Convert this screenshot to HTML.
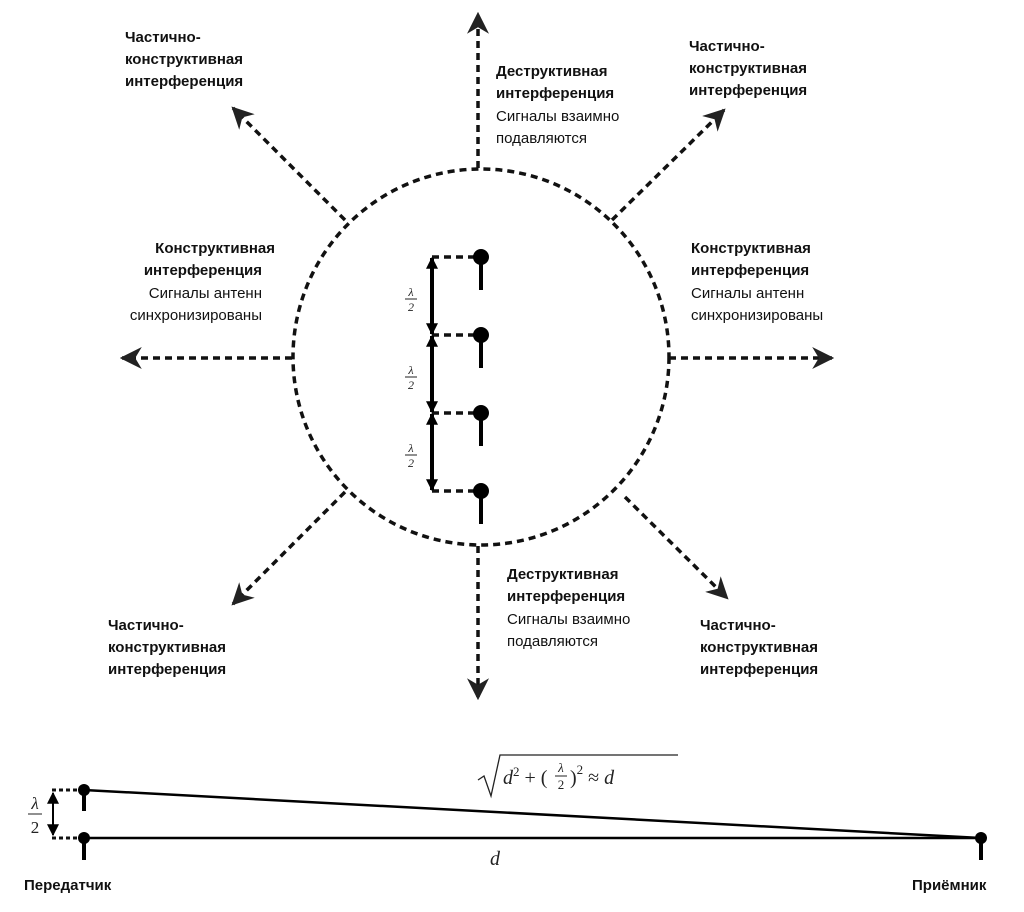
<!DOCTYPE html>
<html><head><meta charset="utf-8"><style>
body{margin:0;background:#fff;width:1024px;height:912px;overflow:hidden}
svg{display:block}
.b{font-family:"Liberation Sans","DejaVu Sans",sans-serif;font-weight:bold;font-size:15px;fill:#111}
.n{font-family:"Liberation Sans","DejaVu Sans",sans-serif;font-size:15px;fill:#111}
.m{font-family:"Liberation Serif",serif;font-style:italic;fill:#222}
</style></head><body>
<svg width="1024" height="912" viewBox="0 0 1024 912">
<defs>
<marker id="ah" viewBox="0 0 20 20" refX="18" refY="10" markerWidth="22" markerHeight="22" markerUnits="userSpaceOnUse" orient="auto">
<path d="M0,0 L20,10 L0,20 L6,10 Z" fill="#222"/></marker>
<marker id="sa" viewBox="0 0 10 10" refX="9" refY="5" markerWidth="12" markerHeight="12" markerUnits="userSpaceOnUse" orient="auto-start-reverse">
<path d="M0,0 L10,5 L0,10 Z" fill="#000"/></marker>
</defs>
<g stroke="#111" stroke-width="3.5" fill="none" stroke-dasharray="7,5">
<circle cx="481" cy="357" r="188"/>
<line x1="478" y1="168" x2="478" y2="14" marker-end="url(#ah)"/>
<line x1="478" y1="546" x2="478" y2="698" marker-end="url(#ah)"/>
<line x1="292" y1="358" x2="122" y2="358" marker-end="url(#ah)"/>
<line x1="669" y1="358" x2="832" y2="358" marker-end="url(#ah)"/>
<line x1="345" y1="220" x2="233" y2="108" marker-end="url(#ah)"/>
<line x1="612" y1="220" x2="724" y2="110" marker-end="url(#ah)"/>
<line x1="345" y1="492" x2="233" y2="604" marker-end="url(#ah)"/>
<line x1="625" y1="497" x2="727" y2="598" marker-end="url(#ah)"/>
<line x1="432" y1="257" x2="481" y2="257"/>
<line x1="432" y1="335" x2="481" y2="335"/>
<line x1="432" y1="413" x2="481" y2="413"/>
<line x1="432" y1="491" x2="481" y2="491"/>
<line x1="52" y1="790" x2="84" y2="790" stroke-width="3" stroke-dasharray="4,3"/>
<line x1="52" y1="838" x2="84" y2="838" stroke-width="3" stroke-dasharray="4,3"/>
</g>
<g stroke="#000" stroke-width="4">
<line x1="432" y1="258" x2="432" y2="334" marker-start="url(#sa)" marker-end="url(#sa)"/>
<line x1="432" y1="336" x2="432" y2="412" marker-start="url(#sa)" marker-end="url(#sa)"/>
<line x1="432" y1="414" x2="432" y2="490" marker-start="url(#sa)" marker-end="url(#sa)"/>
<line x1="481" y1="257" x2="481" y2="290"/>
<line x1="481" y1="335" x2="481" y2="368"/>
<line x1="481" y1="413" x2="481" y2="446"/>
<line x1="481" y1="491" x2="481" y2="524"/>
<line x1="84" y1="790" x2="84" y2="811"/>
<line x1="84" y1="838" x2="84" y2="860"/>
<line x1="981" y1="838" x2="981" y2="860"/>
</g>
<g fill="#000">
<circle cx="481" cy="257" r="8"/><circle cx="481" cy="335" r="8"/>
<circle cx="481" cy="413" r="8"/><circle cx="481" cy="491" r="8"/>
<circle cx="84" cy="790" r="6"/><circle cx="84" cy="838" r="6"/><circle cx="981" cy="838" r="6"/>
</g>
<g stroke="#000" stroke-width="2.5">
<line x1="84" y1="790" x2="981" y2="838"/>
<line x1="84" y1="838" x2="981" y2="838"/>
<line x1="53" y1="793" x2="53" y2="835" marker-start="url(#sa)" marker-end="url(#sa)" stroke-width="2"/>
</g>
<g class="m" font-size="12" text-anchor="middle">
<text x="411" y="296">λ</text><line x1="405" y1="299" x2="417" y2="299" stroke="#222"/><text x="411" y="311">2</text>
<text x="411" y="374">λ</text><line x1="405" y1="377" x2="417" y2="377" stroke="#222"/><text x="411" y="389">2</text>
<text x="411" y="452">λ</text><line x1="405" y1="455" x2="417" y2="455" stroke="#222"/><text x="411" y="467">2</text>
</g>
<g class="m" text-anchor="middle">
<text x="35" y="809" font-size="17">λ</text><line x1="28" y1="814" x2="42" y2="814" stroke="#222" stroke-width="1"/><text x="35" y="833" font-size="17" font-style="normal">2</text>
<text x="495" y="865" font-size="20">d</text>
</g>
<g class="m" font-size="20">
<path d="M478,780 L484,776 L491,796 L500,755 L678,755" stroke="#222" stroke-width="1.3" fill="none"/>
<text x="503" y="784">d<tspan font-style="normal" font-size="13" dy="-8">2</tspan><tspan font-style="normal" dy="8"> + (</tspan></text>
<text x="561" y="772" font-size="13" text-anchor="middle">λ</text><line x1="555" y1="776" x2="567" y2="776" stroke="#222"/><text x="561" y="789" font-size="13" font-style="normal" text-anchor="middle">2</text>
<text x="570" y="784" font-style="normal">)<tspan font-size="13" dy="-10">2</tspan><tspan dy="10"> ≈ </tspan><tspan font-style="italic">d</tspan></text>
</g>
<text class="b" x="125" y="42">Частично-</text>
<text class="b" x="125" y="64">конструктивная</text>
<text class="b" x="125" y="86">интерференция</text>
<text class="b" x="496" y="76">Деструктивная</text>
<text class="b" x="496" y="98">интерференция</text>
<text class="n" x="496" y="121">Сигналы взаимно</text>
<text class="n" x="496" y="143">подавляются</text>
<text class="b" x="689" y="51">Частично-</text>
<text class="b" x="689" y="73">конструктивная</text>
<text class="b" x="689" y="95">интерференция</text>
<g text-anchor="end">
<text class="b" x="275" y="253">Конструктивная</text>
<text class="b" x="262" y="275">интерференция</text>
<text class="n" x="262" y="298">Сигналы антенн</text>
<text class="n" x="262" y="320">синхронизированы</text>
</g>
<text class="b" x="691" y="253">Конструктивная</text>
<text class="b" x="691" y="275">интерференция</text>
<text class="n" x="691" y="298">Сигналы антенн</text>
<text class="n" x="691" y="320">синхронизированы</text>
<text class="b" x="108" y="630">Частично-</text>
<text class="b" x="108" y="652">конструктивная</text>
<text class="b" x="108" y="674">интерференция</text>
<text class="b" x="507" y="579">Деструктивная</text>
<text class="b" x="507" y="601">интерференция</text>
<text class="n" x="507" y="624">Сигналы взаимно</text>
<text class="n" x="507" y="646">подавляются</text>
<text class="b" x="700" y="630">Частично-</text>
<text class="b" x="700" y="652">конструктивная</text>
<text class="b" x="700" y="674">интерференция</text>
<text class="b" x="24" y="890">Передатчик</text>
<text class="b" x="912" y="890">Приёмник</text>
</svg>
</body></html>
